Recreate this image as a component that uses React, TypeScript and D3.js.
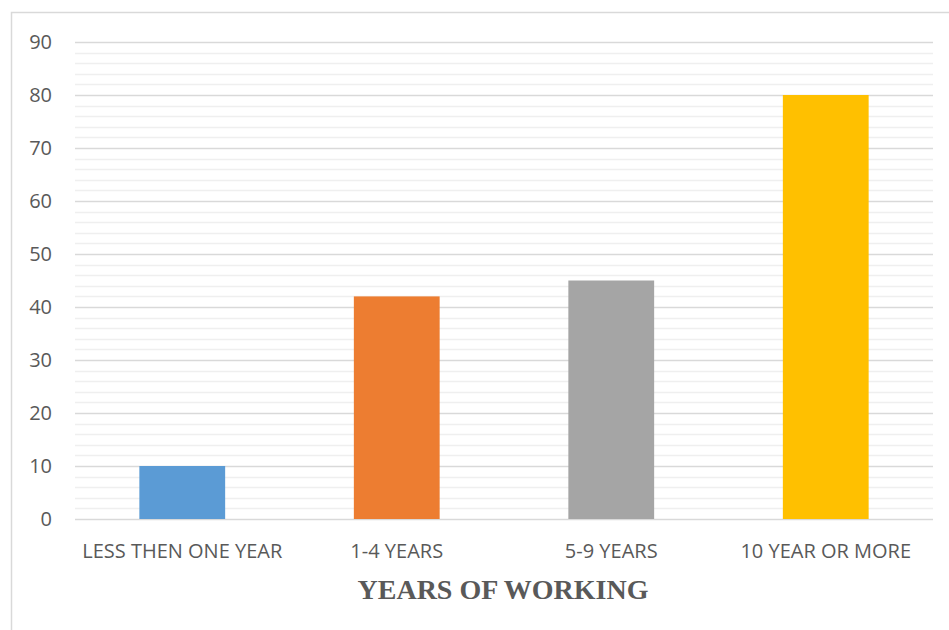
import React from "react";
import * as d3 from "d3";

const categories = ["LESS THEN ONE YEAR", "1-4 YEARS", "5-9 YEARS", "10 YEAR OR MORE"];
const values = [10, 42, 45, 80];
const colors = ["#5b9bd5", "#ed7d31", "#a5a5a5", "#ffc000"];
const yTicks = [0, 10, 20, 30, 40, 50, 60, 70, 80, 90];
const axisTitle = "YEARS OF WORKING";

export default function App() {
  const W = 949, H = 630;
  const left = 75, right = 933, top = 42, bottom = 519;
  const x = d3.scaleBand<string>().domain(categories).range([left, right]).paddingInner(0.6).paddingOuter(0.3);
  const y = d3.scaleLinear().domain([0, 90]).range([bottom, top]);
  const minor = d3.range(0, 91, 2).filter((v) => v % 10 !== 0);
  const font = "'Open Sans', sans-serif";
  return (
    <svg width={W} height={H} style={{ position: "absolute", left: 0, top: 0, background: "#fff" }}>
      <rect x={11.5} y={12.5} width={W} height={H} fill="#fff" stroke="#d9d9d9" strokeWidth={1.5} />
      {minor.map((v) => (
        <line key={"m" + v} x1={left} x2={right} y1={Math.round(y(v)) + 0.5} y2={Math.round(y(v)) + 0.5} stroke="#efefef" strokeWidth={1.5} />
      ))}
      {yTicks.map((v) => (
        <line key={"g" + v} x1={left} x2={right} y1={Math.round(y(v)) + 0.5} y2={Math.round(y(v)) + 0.5} stroke="#d9d9d9" strokeWidth={1.5} />
      ))}
      {categories.map((c, i) => (
        <rect key={c} x={x(c)!} y={y(values[i])} width={x.bandwidth()} height={y(0) - y(values[i])} fill={colors[i]} />
      ))}
      {yTicks.map((v) => (
        <text key={"t" + v} x={52} y={y(v)} dy="0.35em" textAnchor="end" fontFamily={font} fontSize={20} fill="#595959">
          {v}
        </text>
      ))}
      {categories.map((c) => (
        <text key={"c" + c} x={x(c)! + x.bandwidth() / 2} y={551} dy="0.35em" textAnchor="middle" fontFamily={font} fontSize={20} fill="#595959">
          {c}
        </text>
      ))}
      <text x={503} y={589} dy="0.35em" textAnchor="middle" fontFamily="'Liberation Serif', 'Times New Roman', serif" fontWeight="bold" fontSize={28} fill="#595959">
        {axisTitle}
      </text>
    </svg>
  );
}
